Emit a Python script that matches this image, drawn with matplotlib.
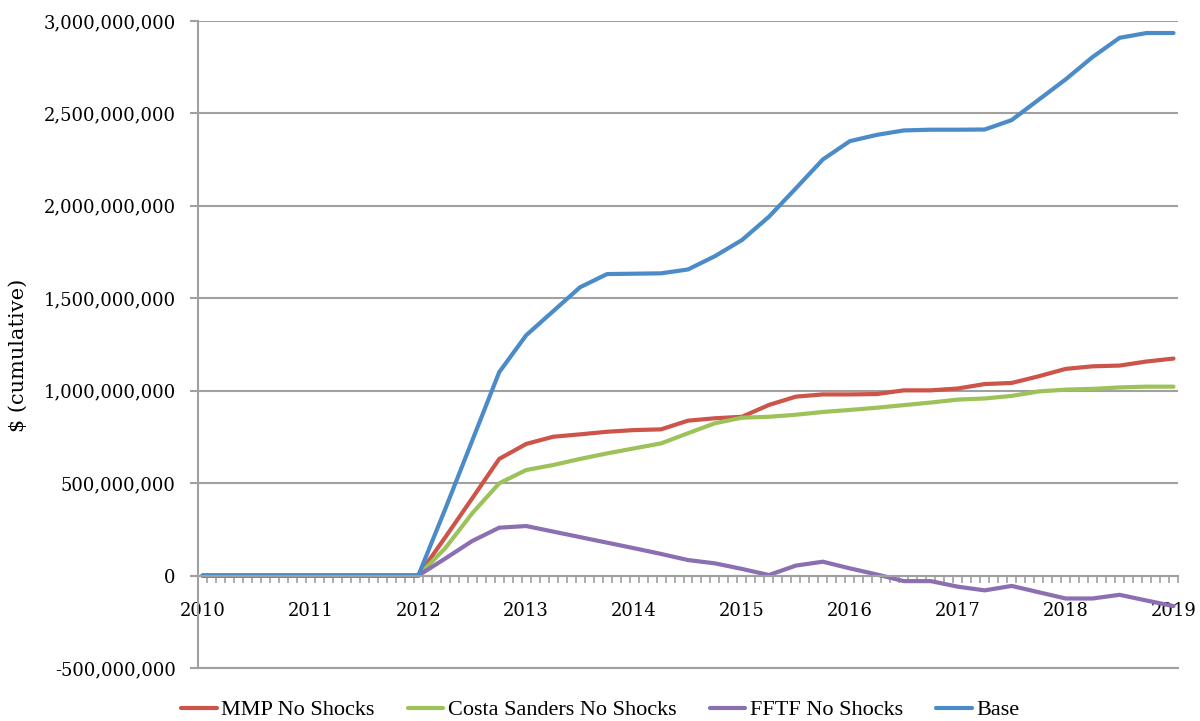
import numpy as np
import matplotlib
matplotlib.use('Agg')
import matplotlib.pyplot as plt
from matplotlib.ticker import FuncFormatter

# quarterly sample points, Jan 2010 .. Jan 2019
quarters = 2010 + np.arange(37) / 4.0

# cumulative $ (millions)
mmp = [0, 0, 0, 0, 0, 0, 0, 0, 0,
       207, 418, 631, 712, 751, 764, 778, 787, 791, 838, 851, 859,
       923, 968, 980, 980, 982, 1002, 1002, 1012, 1036, 1042, 1078,
       1118, 1132, 1136, 1158, 1174]
costa = [0, 0, 0, 0, 0, 0, 0, 0, 0,
         148, 337, 499, 571, 598, 631, 661, 688, 715, 770, 824, 854,
         859, 870, 885, 896, 908, 922, 936, 952, 958, 972, 996,
         1006, 1010, 1018, 1022, 1022]
fftf = [0, 0, 0, 0, 0, 0, 0, 0, 0,
        92, 187, 259, 268, 238, 208, 178, 148, 117, 84, 66, 36,
        3, 54, 75, 39, 6, -30, -30, -60, -80, -56, -90,
        -124, -124, -104, -135, -165]
base = [0, 0, 0, 0, 0, 0, 0, 0, 0,
        360, 730, 1100, 1300, 1430, 1560, 1631, 1633, 1635, 1656, 1728, 1815,
        1941, 2095, 2251, 2350, 2384, 2408, 2412, 2412, 2413, 2464, 2574,
        2684, 2805, 2909, 2935, 2935]

series = [
    ('MMP No Shocks', mmp, '#CD5448'),
    ('Costa Sanders No Shocks', costa, '#9DC25A'),
    ('FFTF No Shocks', fftf, '#8B6FB1'),
    ('Base', base, '#4A8BC8'),
]

GRID = '#a0a0a0'
plt.rcParams['font.family'] = 'DejaVu Serif'

fig = plt.figure(figsize=(12, 7.21), dpi=100)
ax = fig.add_axes([198 / 1200, 1 - 668 / 721, 980 / 1200, 647 / 721])

for name, vals, color in series:
    ax.plot(quarters, np.array(vals) * 1e6, color=color, lw=3,
            solid_joinstyle='round', solid_capstyle='round', label=name)

ax.set_xlim(2010 - 1 / 24, 2019 + 1 / 24)
ax.set_ylim(-500e6, 3000e6)

# y axis: gridlines every 500M, comma labels
ax.set_yticks(np.arange(-500e6, 3000e6 + 1, 500e6))
ax.yaxis.set_major_formatter(FuncFormatter(lambda v, _: f'{v:,.0f}'))
ax.yaxis.grid(True, color=GRID, lw=1.5)
ax.axhline(-500e6, color=GRID, lw=1.5, clip_on=False, zorder=0.5)
ax.set_axisbelow(True)
ax.tick_params(axis='y', length=6, width=1.5, color=GRID, pad=10,
               labelsize=13)

# x axis sits on the zero line, monthly tick marks hanging below it
ax.spines['bottom'].set_position(('data', 0))
ax.spines['bottom'].set_color(GRID)
ax.spines['bottom'].set_linewidth(1.5)
ax.spines['left'].set_color(GRID)
ax.spines['left'].set_linewidth(1.5)
ax.spines['top'].set_visible(False)
ax.spines['right'].set_visible(False)

ax.set_xticks(range(2010, 2020))
ax.set_xticks(2010 - 1 / 24 + np.arange(110) / 12, minor=True)
ax.tick_params(axis='x', which='major', length=0, pad=19, labelsize=13)
ax.tick_params(axis='x', which='minor', length=5, width=1.2, color=GRID,
               direction='out')

fig.text(18 / 1200, 1 - 355 / 721, '$ (cumulative)', rotation=90,
         ha='center', va='center', fontsize=15)

fig.legend(loc='center left', bbox_to_anchor=(181 / 1200, 11 / 721), ncol=4,
           frameon=False, prop={'family': 'Liberation Serif', 'size': 16},
           handlelength=1.6, handletextpad=0.2, columnspacing=1.5,
           borderpad=0, borderaxespad=0)

fig.savefig('out.png', dpi=100)
